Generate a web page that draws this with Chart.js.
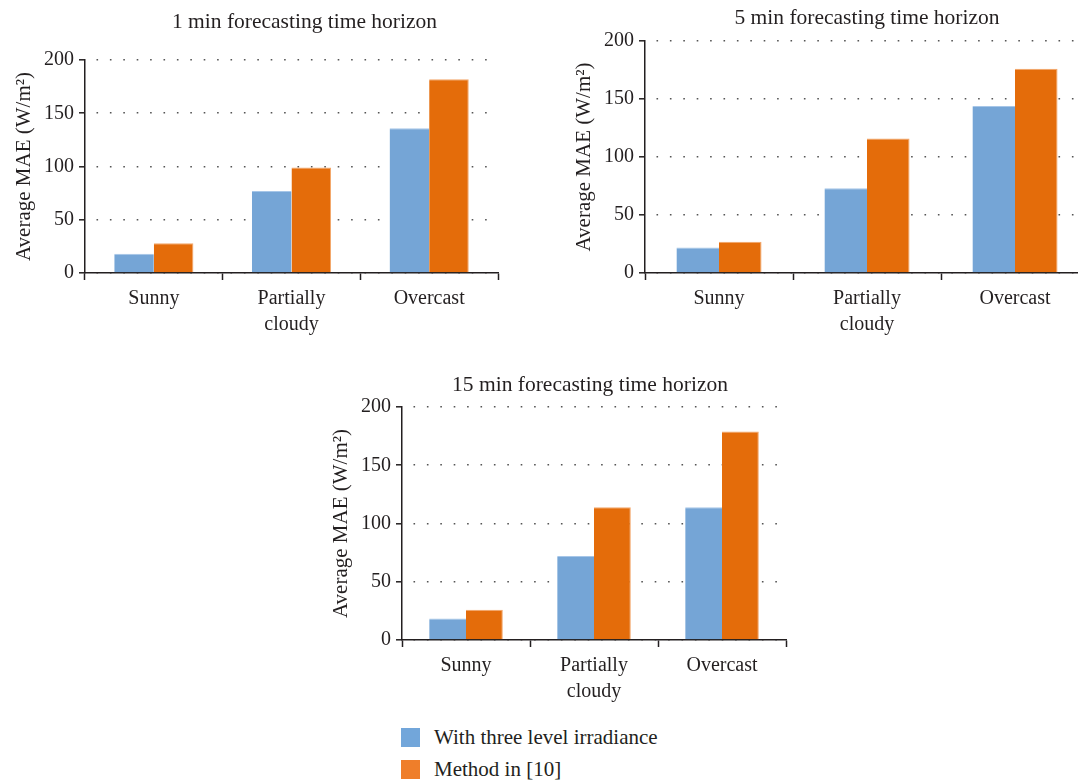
<!DOCTYPE html>
<html>
<head>
<meta charset="utf-8">
<script src="https://cdn.jsdelivr.net/npm/chart.js@4"></script>
<style>
  body { margin: 0; width: 1078px; height: 780px; overflow: hidden; background: #fff; position: relative; font-family: "Liberation Serif", serif; }
  .panel { position: absolute; }
  #legend { position: absolute; left: 401px; top: 721px; color: #231f20; font-size: 21px; }
  #legend div { display: flex; align-items: center; height: 32px; }
  #legend span.sw { width: 19px; height: 19px; margin-right: 14px; display: inline-block; }
</style>
</head>
<body>
<div class="panel" style="left:0px;top:0px;width:540px;height:345px"><canvas id="c1"></canvas></div>
<div class="panel" style="left:560px;top:0px;width:540px;height:345px"><canvas id="c2"></canvas></div>
<div class="panel" style="left:317px;top:370px;width:480px;height:342px"><canvas id="c3"></canvas></div>
<div id="legend"></div>
<script>
const categories = ["Sunny", ["Partially", "cloudy"], "Overcast"];
const seriesNames = ["With three level irradiance", "Method in [10]"];
const yTicks = [0, 50, 100, 150, 200];

// 1 min horizon
const threeLevel1 = [18, 77, 136];
const method1 = [28, 99, 182];
// 5 min horizon
const threeLevel5 = [22, 73, 144];
const method5 = [27, 116, 176];
// 15 min horizon
const threeLevel15 = [18.5, 72, 114];
const method15 = [26, 114, 179];

const blue = "#75a5d6";
const orange = "#e46c0a";
const ink = "#231f20";
const font = { family: "'Liberation Serif', serif", size: 20, lineHeight: 1.3 };
const titleFont = { family: "'Liberation Serif', serif", size: 21 };

const panelTitle = {
  id: "panelTitle",
  afterDraw(chart, args, opts) {
    const { ctx, chartArea } = chart;
    ctx.save();
    ctx.font = "21.5px 'Liberation Serif', serif";
    ctx.fillStyle = ink;
    ctx.textAlign = "center";
    ctx.textBaseline = "middle";
    ctx.fillText(opts.text, (chartArea.left + chartArea.right) / 2 + (opts.dx || 0), opts.y);
    ctx.restore();
  }
};

function makePanel(id, title, a, b, pad, titleY, titleDx) {
  new Chart(id, {
    type: "bar",
    data: {
      labels: categories,
      datasets: [
        { label: seriesNames[0], data: a, backgroundColor: blue, borderColor: "#a6c6e8",
          borderWidth: { top: 1, left: 0, right: 0, bottom: 0 }, borderSkipped: false },
        { label: seriesNames[1], data: b, backgroundColor: orange, borderColor: "#f3a66a",
          borderWidth: { top: 1, left: 0, right: 1, bottom: 0 }, borderSkipped: false }
      ]
    },
    options: {
      responsive: true,
      maintainAspectRatio: false,
      animation: false,
      layout: { padding: pad },
      categoryPercentage: 0.575,
      barPercentage: 1.0,
      plugins: {
        legend: { display: false },
        tooltip: { enabled: false },
        panelTitle: { text: title, y: titleY, dx: titleDx }
      },
      scales: {
        x: {
          offset: true,
          afterFit: (s) => { s.height = 72; },
          grid: { offset: true, drawOnChartArea: false, tickLength: 7, tickColor: ink, tickWidth: 1.5 },
          border: { color: ink, width: 1.5 },
          ticks: { color: ink, font: font, padding: 6, maxRotation: 0, autoSkip: false }
        },
        y: {
          min: 0,
          max: 200,
          afterFit: (s) => { s.width = 73; },
          afterBuildTicks: (s) => { s.ticks = yTicks.map((v) => ({ value: v })); },
          grid: { color: "#555", lineWidth: 1.6, tickLength: 6, tickColor: ink, tickWidth: 1.5, tickBorderDash: [] },
          border: { color: ink, width: 1.5, dash: [1.6, 11.8], dashOffset: -11 },
          ticks: { color: ink, font: font, padding: 5 },
          title: { display: true, text: "Average MAE (W/m²)", color: ink, font: titleFont, padding: { top: 0, bottom: 4 } }
        }
      }
    },
    plugins: [panelTitle]
  });
}

makePanel("c1", "1 min forecasting time horizon", threeLevel1, method1,
  { left: 12, right: 42, top: 60, bottom: 0 }, 22, 13);
makePanel("c2", "5 min forecasting time horizon", threeLevel5, method5,
  { left: 12, right: 11, top: 41, bottom: 0 }, 18, 0);
makePanel("c3", "15 min forecasting time horizon", threeLevel15, method15,
  { left: 12, right: 11, top: 37, bottom: 0 }, 15, -4);

// legend below the last panel
const legendColors = ["#72a6da", "#ef7e2a"];
const legend = document.getElementById("legend");
seriesNames.forEach((name, i) => {
  const row = document.createElement("div");
  row.innerHTML = '<span class="sw" style="background:' + legendColors[i] + '"></span>' + name;
  legend.appendChild(row);
});
</script>
</body>
</html>
